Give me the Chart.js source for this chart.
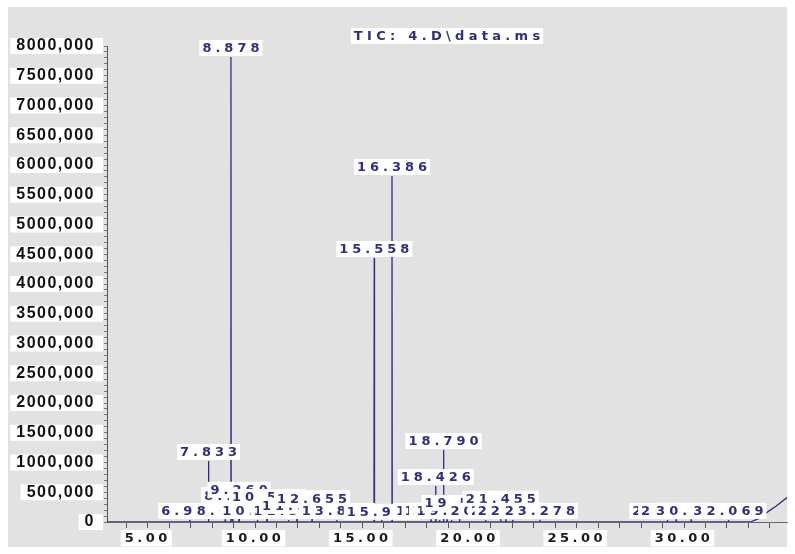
<!DOCTYPE html>
<html>
<head>
<meta charset="utf-8">
<script src="https://cdn.jsdelivr.net/npm/chart.js@4.4.0/dist/chart.umd.min.js"></script>
<style>
  html, body { margin: 0; padding: 0; background: #fff; }
  #wrap { position: relative; width: 795px; height: 554px; }
  #panel { position: absolute; left: 8px; top: 7px; width: 779px; height: 540px; background: #e2e2e2; }
  #tic { position: absolute; left: 0; top: 0; }
</style>
</head>
<body>
<div id="wrap">
  <div id="panel"></div>
  <canvas id="tic" width="795" height="554"></canvas>
</div>
<script>
// labelled peaks: retention time (min) and abundance at the apex
var peakTimes = [6.959, 7.833, 8.612, 8.878, 8.962, 9.260, 10.112, 10.563, 11.560, 11.960,
  12.655, 13.810, 15.558, 15.912, 16.386, 18.205, 18.426, 18.602, 18.790, 18.955,
  19.160, 19.536, 20.750, 21.455, 21.702, 22.016, 23.278, 29.223, 29.633, 30.333, 32.069];
var peakHeights = [35000, 1025000, 35000, 7815000, 300000, 390000, 35000, 270000, 35000, 120000,
  250000, 35000, 4437000, 20000, 5815000, 35000, 605000, 35000, 1210000, 35000,
  35000, 170000, 35000, 240000, 35000, 35000, 35000, 35000, 35000, 35000, 35000];
// column bleed at the end of the run
var driftTimes = [33.1, 33.5, 33.9, 34.3, 34.8];
var driftValues = [0, 60000, 170000, 270000, 410000];

var xTickValues = [5, 10, 15, 20, 25, 30];
var xTickLabels = ['5.00', '10.00', '15.00', '20.00', '25.00', '30.00'];
var yTickValues = [0, 500000, 1000000, 1500000, 2000000, 2500000, 3000000, 3500000, 4000000,
  4500000, 5000000, 5500000, 6000000, 6500000, 7000000, 7500000, 8000000];
var yTickLabels = ['0', '500,000', '1000,000', '1500,000', '2000,000', '2500,000', '3000,000', '3500,000',
  '4000,000', '4500,000', '5000,000', '5500,000', '6000,000', '6500,000', '7000,000', '7500,000', '8000,000'];
var traceTitle = 'TIC: 4.D\\data.ms';

var X_MIN = 3.1, X_MAX = 34.8;
var PEAK_HALF = 0.012;
var X_SPACING = '3.5px', Y_SPACING = '1.5px';
var LABEL_SPACING = 4, TITLE_SPACING = 4.3;
var NAVY = '#2f2f82';

// build the trace: flat baseline, one narrow spike per peak, then the bleed
var trace = [{x: X_MIN, y: 0}];
for (var i = 0; i < peakTimes.length; i++) {
  trace.push({x: peakTimes[i] - PEAK_HALF, y: 0});
  trace.push({x: peakTimes[i], y: peakHeights[i]});
  trace.push({x: peakTimes[i] + PEAK_HALF, y: 0});
}
for (var j = 0; j < driftTimes.length; j++) {
  trace.push({x: driftTimes[j], y: driftValues[j]});
}

function isMajor(list) {
  return function(c) { return c.tick && list.indexOf(c.tick.value) >= 0; };
}

// text in a white box, centred on cx / cy
function boxedText(ctx, text, cx, cy, sp) {
  ctx.letterSpacing = sp + 'px';
  var w = ctx.measureText(text).width - sp;
  ctx.fillStyle = '#fff';
  ctx.fillRect(cx - w / 2 - 3, cy - 8, w + 6, 16);
  ctx.fillStyle = NAVY;
  ctx.fillText(text, cx - w / 2, cy + 1);
}

// x tick labels are drawn before the datasets, y tick labels after them
var spacing = {
  id: 'spacing',
  beforeDraw: function(chart) {
    chart.ctx.letterSpacing = X_SPACING;
  }
};

var peakLabels = {
  id: 'peakLabels',
  afterDatasetsDraw: function(chart) {
    var ctx = chart.ctx, xs = chart.scales.x, ys = chart.scales.y;
    ctx.save();
    ctx.font = 'bold 13px "DejaVu Sans"';
    ctx.textAlign = 'left';
    ctx.textBaseline = 'middle';
    for (var i = 0; i < peakTimes.length; i++) {
      boxedText(ctx, peakTimes[i].toFixed(3),
        xs.getPixelForValue(peakTimes[i]),
        ys.getPixelForValue(peakHeights[i]) - 9, LABEL_SPACING);
    }
    // trace name above the plot
    var a = chart.chartArea;
    boxedText(ctx, traceTitle, (a.left + a.right) / 2, a.top - 10, TITLE_SPACING);
    ctx.restore();
    ctx.letterSpacing = Y_SPACING;
  }
};

new Chart(document.getElementById('tic'), {
  type: 'line',
  data: {
    datasets: [{
      label: traceTitle,
      data: trace,
      borderColor: NAVY,
      borderWidth: 1.3,
      pointRadius: 0,
      tension: 0,
      fill: false
    }]
  },
  options: {
    responsive: false,
    animation: false,
    devicePixelRatio: 1,
    layout: { padding: { left: 0, right: 8, top: 46, bottom: 0 } },
    plugins: {
      legend: { display: false },
      tooltip: { enabled: false }
    },
    scales: {
      x: {
        type: 'linear',
        min: X_MIN,
        max: X_MAX,
        beforeUpdate: function(s) { s.ctx.letterSpacing = X_SPACING; },
        afterBuildTicks: function(s) {
          var t = [];
          for (var v = Math.ceil(X_MIN); v <= X_MAX; v++) t.push({value: v});
          s.ticks = t;
        },
        afterFit: function(s) { s.height = 32; },
        border: { display: true, color: '#6a6a6a', width: 1 },
        grid: {
          drawOnChartArea: false,
          drawTicks: true,
          tickLength: 6,
          tickColor: '#555'
        },
        ticks: {
          autoSkip: false,
          maxRotation: 0,
          padding: 3,
          color: '#1a1a1a',
          font: { family: '"DejaVu Sans"', size: 13, weight: 'bold', lineHeight: 1.1 },
          showLabelBackdrop: isMajor(xTickValues),
          backdropColor: '#fff',
          backdropPadding: { left: 4, right: 1, top: 1, bottom: 1 },
          callback: function(value) {
            var k = xTickValues.indexOf(value);
            return k >= 0 ? xTickLabels[k] : '';
          }
        }
      },
      y: {
        min: 0,
        max: 8000000,
        beforeUpdate: function(s) { s.ctx.letterSpacing = Y_SPACING; },
        afterBuildTicks: function(s) {
          var t = [];
          for (var v = 0; v <= 8000000; v += 100000) t.push({value: v});
          s.ticks = t;
        },
        afterFit: function(s) { s.width = 107; },
        border: { display: true, color: '#555', width: 1 },
        grid: {
          drawOnChartArea: false,
          drawTicks: true,
          tickLength: 3,
          tickColor: '#777'
        },
        ticks: {
          z: 1,
          autoSkip: false,
          padding: 9,
          color: '#111',
          font: { family: '"Liberation Sans"', size: 16, weight: 'bold', lineHeight: 1 },
          showLabelBackdrop: isMajor(yTickValues),
          backdropColor: '#fff',
          backdropPadding: { left: 6, right: 8, top: 0, bottom: 0 },
          callback: function(value) {
            var k = yTickValues.indexOf(value);
            return k >= 0 ? yTickLabels[k] : '';
          }
        }
      }
    }
  },
  plugins: [spacing, peakLabels]
});
</script>
</body>
</html>
